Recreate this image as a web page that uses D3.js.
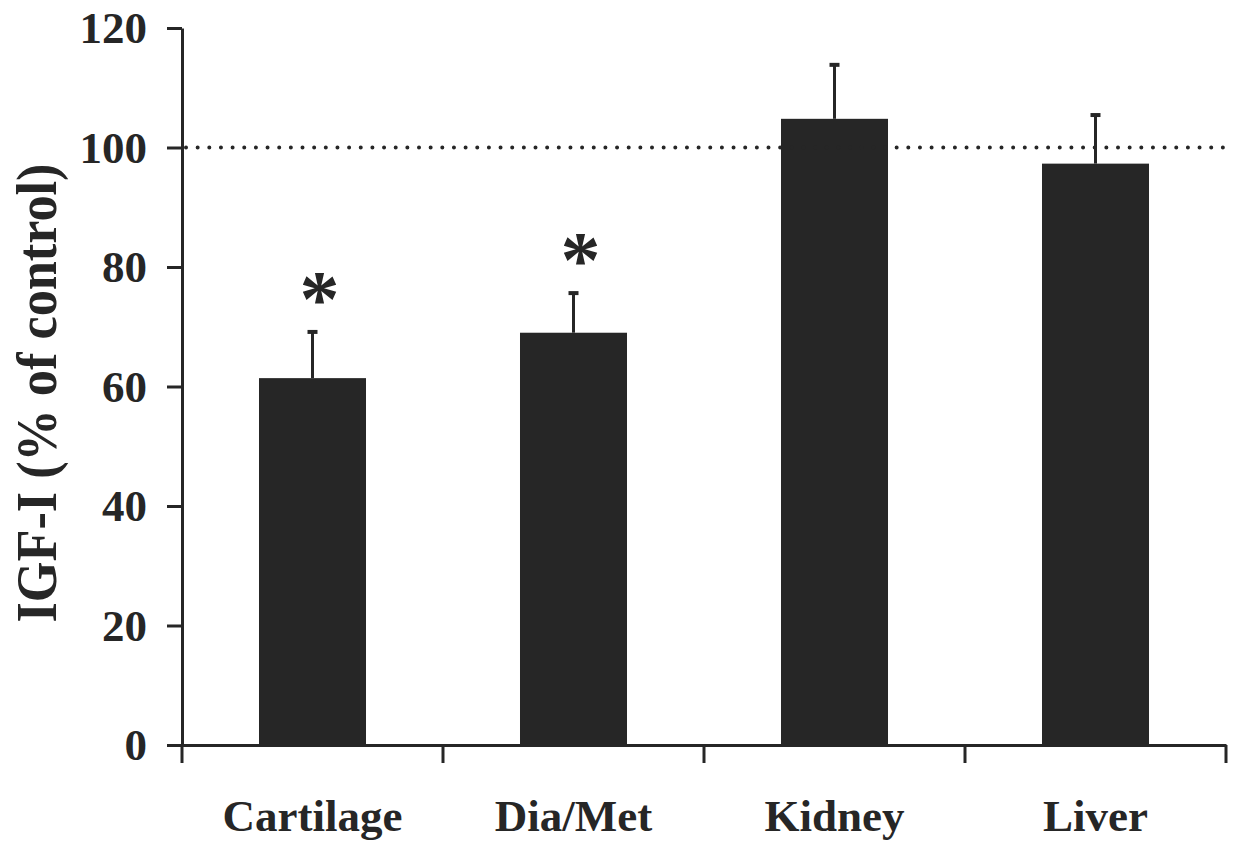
<!DOCTYPE html>
<html><head><meta charset="utf-8">
<script src="https://cdn.jsdelivr.net/npm/d3@7"></script>
<style>body{margin:0;background:#fff}svg{display:block}</style>
</head><body>
<svg id="c" width="1235" height="842"></svg>
<script>
const categories = ["Cartilage", "Dia/Met", "Kidney", "Liver"];
const values = [61.4, 69.0, 104.8, 97.3];
const errors = [7.9, 6.8, 9.2, 8.3];
const significant = [true, true, false, false];
const yTicks = [0, 20, 40, 60, 80, 100, 120];
const referenceValue = 100;
const yTitle = "IGF-I (% of control)";

const col = "#262626";
const font = "'Liberation Serif','Times New Roman',serif";
const svg = d3.select("#c");
const x = d3.scaleBand().domain(categories).range([182, 1226]);
const y = d3.scaleLinear().domain([0, 120]).range([745, 28]);
const barW = x.bandwidth() * 0.41;

// bars
svg.selectAll("rect.bar").data(categories).join("rect")
  .attr("x", d => x(d) + x.bandwidth()/2 - barW/2)
  .attr("y", (d,i) => y(values[i]))
  .attr("width", barW)
  .attr("height", (d,i) => y(0) - y(values[i]))
  .attr("fill", col);

// reference dotted line
svg.append("line")
  .attr("x1", 186).attr("x2", 1228)
  .attr("y1", y(referenceValue)).attr("y2", y(referenceValue))
  .attr("stroke", col).attr("stroke-width", 4)
  .attr("stroke-linecap", "round")
  .attr("stroke-dasharray", "0 11.65");

// error bars
const eg = svg.selectAll("g.err").data(categories).join("g");
eg.append("line")
  .attr("x1", d => x(d) + x.bandwidth()/2).attr("x2", d => x(d) + x.bandwidth()/2)
  .attr("y1", (d,i) => y(values[i])).attr("y2", (d,i) => y(values[i] + errors[i]))
  .attr("stroke", col).attr("stroke-width", 3);
eg.append("line")
  .attr("x1", d => x(d) + x.bandwidth()/2 - 5).attr("x2", d => x(d) + x.bandwidth()/2 + 5)
  .attr("y1", (d,i) => y(values[i] + errors[i]) + 1).attr("y2", (d,i) => y(values[i] + errors[i]) + 1)
  .attr("stroke", col).attr("stroke-width", 4);

// asterisks
svg.selectAll("text.ast").data(categories.filter((d,i) => significant[i])).join("text")
  .attr("x", d => x(d) + x.bandwidth()/2 + 7)
  .attr("y", d => { const i = categories.indexOf(d); return y(values[i] + errors[i]) - 5; })
  .attr("text-anchor", "middle")
  .attr("font-family", font).attr("font-weight", "bold").attr("font-size", 80)
  .attr("fill", col)
  .text("*");

// y axis
const yAxis = svg.append("g").attr("transform", "translate(182,0)")
  .call(d3.axisLeft(y).tickValues(yTicks).tickSize(15).tickSizeOuter(0).tickPadding(20));
yAxis.select(".domain").attr("stroke", col).attr("stroke-width", 3);
yAxis.selectAll(".tick line").attr("stroke", col).attr("stroke-width", 3);
yAxis.selectAll(".tick text").attr("font-family", font).attr("font-weight", "bold")
  .attr("font-size", 45).attr("fill", col).attr("dy", "0.33em");

// x axis
const xAxis = svg.append("g").attr("transform", "translate(0,745)")
  .call(d3.axisBottom(x).tickSize(0).tickSizeOuter(0).tickPadding(86));
xAxis.select(".domain").attr("stroke", col).attr("stroke-width", 3);
xAxis.selectAll(".tick text").attr("font-family", font).attr("font-weight", "bold")
  .attr("font-size", 45).attr("fill", col).attr("dy", 0);
const bounds = categories.map(d => x(d)).concat([x.range()[1]]);
xAxis.selectAll("line.sep").data(bounds).join("line")
  .attr("x1", d => d).attr("x2", d => d)
  .attr("y1", 0).attr("y2", 18)
  .attr("stroke", col).attr("stroke-width", 3);

// y title
svg.append("text")
  .attr("transform", "translate(56,393) rotate(-90)")
  .attr("text-anchor", "middle")
  .attr("font-family", font).attr("font-weight", "bold").attr("font-size", 57)
  .attr("textLength", 459).attr("lengthAdjust", "spacingAndGlyphs")
  .attr("fill", col)
  .text(yTitle);
</script>
</body></html>
